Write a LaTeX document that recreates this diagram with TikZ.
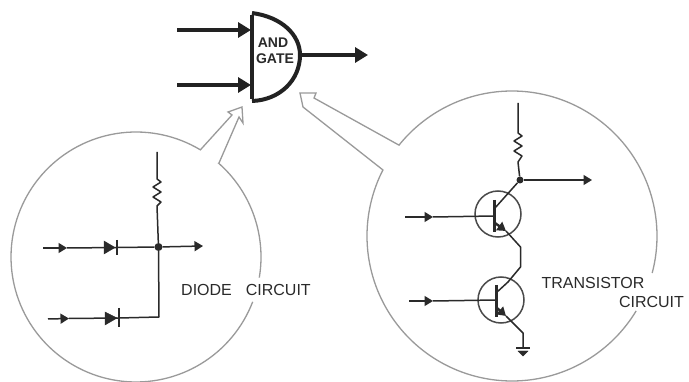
\documentclass[tikz,border=0pt]{standalone}
\usepackage{fontspec}
\setmainfont{Liberation Sans}
\usetikzlibrary{arrows.meta}
\definecolor{ink}{HTML}{2A2A2A}
\definecolor{bub}{HTML}{9A9A9A}
\tikzset{
  wire/.style={draw=ink,line width=1.5pt,line join=round},
  gatewire/.style={draw=ink!80!black,line width=3.4pt},
  tipbig/.style={-{Triangle[length=13pt,width=15pt]}},
  tipsmall/.style={-{Triangle[length=8.5pt,width=10pt]}},
  bubble/.style={draw=bub,line width=1.3pt,line join=miter},
  filledink/.style={fill=ink,draw=ink,line width=.4pt},
  junction/.style={circle,fill=ink,inner sep=0pt,minimum size=8pt},
  qcircle/.style={circle,draw=ink!85,line width=1.5pt,inner sep=0pt,minimum size=46pt},
  label/.style={text=ink,inner sep=0pt,font=\fontsize{16}{18}\selectfont},
  gatelabel/.style={text=ink,inner sep=0pt,font=\bfseries\fontsize{14}{16}\selectfont}
}
\begin{document}
\begin{tikzpicture}[x=1pt,y=-1pt]
\useasboundingbox[fill=white] (0,0) rectangle (689,382);
% bubbles
\draw[bubble,samples=120] plot[domain=21:301] ({136+125*cos(\x)},{257+125*sin(\x)})
  -- (232,115) -- (228,112) -- (242,107) -- (243,123) -- (239,117) -- (219,163)
  -- plot[domain=-48.6:9.5] ({136+125*cos(\x)},{257+125*sin(\x)});
\draw[bubble,samples=140] plot[domain=31.1:207.1] ({512+145*cos(\x)},{236+145*sin(\x)})
  -- (303,107) -- (300,93) -- (316,93) -- (314,98)
  -- plot[domain=-141.2:14.8] ({512+145*cos(\x)},{236+145*sin(\x)});
% AND gate
\coordinate (gt) at (252,13);
\coordinate (gb) at (252,101);
\coordinate (gi1) at (251,30);
\coordinate (gi2) at (251,85);
\coordinate (go) at (300,55);
\coordinate (a1) at (177,30);
\coordinate (a2) at (177,85);
\coordinate (ao) at (368,55);
\draw[gatewire,line width=4pt,line cap=butt] (gt) .. controls (282,17) and (300,35) .. (go) .. controls (300,80) and (280,100) .. (gb);
\draw[gatewire,line width=4pt] ([yshift=-2pt]gt) -- ([yshift=2pt]gb);
\draw[gatewire,tipbig] (a1) -- (gi1);
\draw[gatewire,tipbig] (a2) -- (gi2);
\draw[gatewire,tipbig] (go) -- (ao);
\node[gatelabel] (andt) at (273,43) {AND};
\node[gatelabel] (gatet) at (275,59) {GATE};
% diode circuit
\node[junction] (dj) at (158.5,247) {};
\coordinate (dtop) at (157,152);
\coordinate (dr1) at (157,179);
\coordinate (dr2) at (157,206);
\coordinate (dc) at (159,317);
\coordinate (d1in) at (43,248);
\coordinate (d1a) at (67,248);
\coordinate (d1k) at (117,247.5);
\coordinate (dout) at (203,246);
\coordinate (d2in) at (48,319);
\coordinate (d2a) at (69,318.5);
\coordinate (d2k) at (119,318);
\draw[wire] (dtop) -- (dr1) -- (161,182) -- (153,187) -- (161,192) -- (153,197) -- (161,202) -- (dr2) -- (dj) -- (dc) -- (d2k);
\draw[wire,tipsmall] (d1in) -- (d1a);
\draw[wire] (d1a) -- (d1k);
\draw[wire] (d1k) -- (dj);
\draw[wire,tipsmall] (dj) -- (dout);
\draw[wire,tipsmall] (d2in) -- (d2a);
\draw[wire] (d2a) -- (d2k);
\fill[filledink] (104,241) -- (104,254) -- (115,247.5) -- cycle;
\draw[wire] (117,240) -- (117,255);
\fill[filledink] (105,312) -- (105,325) -- (117,318) -- cycle;
\draw[wire] (119,308) -- (119,327);
\node[label] (dlabel) at (246,290) {DIODE\hspace{14pt}CIRCUIT};
% transistor circuit
\node[qcircle] (q1) at (498,214) {};
\node[qcircle] (q2) at (501,300) {};
\node[junction,minimum size=7pt] (tj) at (520,180) {};
\coordinate (ttop) at (518,103);
\coordinate (tr1) at (518,133);
\coordinate (tr2) at (518,162);
\coordinate (tout) at (592,180);
\coordinate (q1c) at (495,208);
\coordinate (q1e) at (495,223);
\coordinate (q1b) at (494,216);
\coordinate (q1m) at (506,231);
\coordinate (b1in) at (405,217);
\coordinate (b1a) at (433,217);
\coordinate (k1) at (520.5,247);
\coordinate (k2) at (520.5,267);
\coordinate (k3) at (508,282);
\coordinate (q2c) at (496,293);
\coordinate (q2e) at (497,308);
\coordinate (q2b) at (496,300);
\coordinate (q2m) at (506,316);
\coordinate (b2in) at (409,301);
\coordinate (b2a) at (433,301);
\coordinate (k4) at (523,333);
\coordinate (gnd) at (523,348);
\draw[wire] (ttop) -- (tr1) -- (522,136) -- (514,141) -- (522,146) -- (514,151) -- (522,156) -- (tr2) -- (tj) -- (q1c);
\draw[wire,tipsmall] (tj) -- (tout);
\draw[wire,tipsmall] (b1in) -- (b1a);
\draw[wire] (b1a) -- (q1b);
\draw[wire,line width=3pt] (494,200) -- (494,232);
\draw[wire,line width=2.4pt,tipsmall] (q1e) -- (q1m);
\draw[wire] (q1m) -- (k1) -- (k2) -- (k3) -- (q2c);
\draw[wire,tipsmall] (b2in) -- (b2a);
\draw[wire] (b2a) -- (q2b);
\draw[wire,line width=3pt] (496,285) -- (496,317);
\draw[wire,line width=2.4pt,tipsmall] (q2e) -- (q2m);
\draw[wire] (q2m) -- (k4) -- (gnd);
\draw[wire] (516,348) -- (530,348);
\fill[filledink] (518,351) -- (528,351) -- (523,356) -- cycle;
\node[label] (tl1) at (593,283) {TRANSISTOR};
\node[label] (tl2) at (651.5,302) {CIRCUIT};
\end{tikzpicture}
\end{document}
